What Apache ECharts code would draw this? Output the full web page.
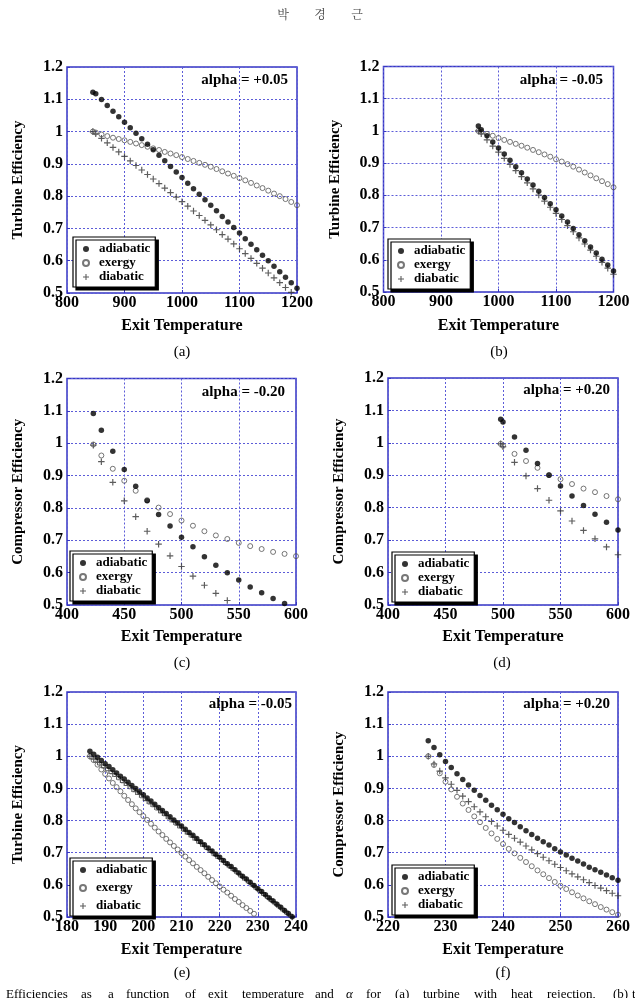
<!DOCTYPE html>
<html><head><meta charset="utf-8">
<script src="https://cdn.jsdelivr.net/npm/echarts@6/dist/echarts.min.js"></script>
<style>html,body{margin:0;padding:0;background:#fff;overflow:hidden}#c{width:635px;height:998px}</style>
</head><body><div id="c"></div>
<script>
// ---------- data ----------
const seriesNames = ['adiabatic', 'exergy', 'diabatic'];
const yTicks = [0.5, 1.2, 0.1];

// (a) turbine, alpha = +0.05
const aTempAd = [845,850,860,870,880,890,900,910,920,930,940,950,960,970,980,990,1000,1010,1020,1030,1040,1050,1060,1070,1080,1090,1100,1110,1120,1130,1140,1150,1160,1170,1180,1190,1200];
const aAdiabatic = [1.122,1.117,1.099,1.081,1.063,1.046,1.029,1.012,0.995,0.978,0.961,0.944,0.927,0.910,0.892,0.875,0.858,0.840,0.823,0.806,0.789,0.772,0.755,0.737,0.720,0.703,0.686,0.668,0.651,0.634,0.617,0.600,0.583,0.566,0.549,0.532,0.515];
const aExergy = [1.000,0.997,0.991,0.986,0.981,0.977,0.973,0.968,0.963,0.958,0.953,0.948,0.943,0.937,0.932,0.927,0.921,0.915,0.909,0.903,0.897,0.891,0.884,0.877,0.870,0.863,0.856,0.849,0.841,0.833,0.825,0.817,0.808,0.800,0.791,0.782,0.772];
const aDiabatic = [1.000,0.993,0.979,0.965,0.951,0.937,0.923,0.909,0.895,0.881,0.867,0.853,0.839,0.825,0.811,0.797,0.783,0.769,0.754,0.740,0.725,0.711,0.696,0.681,0.667,0.652,0.637,0.622,0.607,0.592,0.577,0.562,0.547,0.532,0.517,0.502];

// (b) turbine, alpha = -0.05
const bTemp = [965,970,980,990,1000,1010,1020,1030,1040,1050,1060,1070,1080,1090,1100,1110,1120,1130,1140,1150,1160,1170,1180,1190,1200];
const bAdiabatic = [1.015,1.004,0.985,0.966,0.947,0.928,0.909,0.889,0.870,0.851,0.832,0.813,0.793,0.774,0.755,0.736,0.717,0.697,0.678,0.659,0.640,0.621,0.602,0.584,0.565];
const bExergy = [1.000,0.997,0.991,0.985,0.978,0.972,0.966,0.960,0.954,0.948,0.941,0.934,0.927,0.920,0.912,0.905,0.897,0.889,0.880,0.871,0.862,0.853,0.844,0.835,0.825];
const bDiabatic = [1.000,0.991,0.972,0.953,0.934,0.915,0.896,0.877,0.858,0.839,0.820,0.801,0.782,0.763,0.744,0.725,0.706,0.687,0.668,0.649,0.630,0.611,0.592,0.574,0.555];

// (c) compressor, alpha = -0.20
const cTemp = [423,430,440,450,460,470,480,490,500,510,520,530,540,550,560,570,580,590,600];
const cAdiabatic = [1.092,1.040,0.975,0.919,0.867,0.822,0.780,0.744,0.709,0.680,0.649,0.623,0.600,0.577,0.556,0.538,0.520,0.505];
const cExergy = [0.996,0.962,0.921,0.884,0.853,0.824,0.801,0.781,0.761,0.745,0.728,0.715,0.704,0.692,0.682,0.673,0.664,0.658,0.651];
const cDiabatic = [0.994,0.943,0.879,0.822,0.773,0.728,0.688,0.652,0.619,0.589,0.561,0.536,0.514];

// (d) compressor, alpha = +0.20
const dTemp = [498,500,510,520,530,540,550,560,570,580,590,600];
const dAdiabatic = [1.073,1.064,1.018,0.977,0.936,0.900,0.867,0.836,0.807,0.780,0.755,0.731];
const dExergy = [0.997,0.991,0.966,0.944,0.923,0.901,0.888,0.873,0.859,0.848,0.836,0.826];
const dDiabatic = [0.997,0.988,0.940,0.898,0.859,0.823,0.790,0.759,0.730,0.704,0.679,0.655];

// (e) turbine, alpha = -0.05
const eTemp = [186,187,188,189,190,191,192,193,194,195,196,197,198,199,200,201,202,203,204,205,206,207,208,209,210,211,212,213,214,215,216,217,218,219,220,221,222,223,224,225,226,227,228,229,230,231,232,233,234,235,236,237,238,239];
const eAdiabatic = [1.016,1.006,0.997,0.987,0.977,0.968,0.958,0.948,0.938,0.929,0.919,0.909,0.900,0.890,0.880,0.870,0.861,0.851,0.841,0.831,0.822,0.812,0.802,0.793,0.783,0.773,0.763,0.754,0.744,0.734,0.725,0.715,0.705,0.695,0.686,0.676,0.666,0.657,0.647,0.637,0.627,0.618,0.608,0.598,0.588,0.579,0.569,0.559,0.550,0.540,0.530,0.520,0.511,0.501];
const eExergy = [1.000,0.988,0.974,0.959,0.945,0.931,0.917,0.904,0.891,0.877,0.864,0.851,0.838,0.826,0.814,0.802,0.790,0.778,0.766,0.755,0.743,0.732,0.721,0.710,0.699,0.688,0.677,0.667,0.656,0.646,0.636,0.625,0.615,0.605,0.595,0.585,0.576,0.566,0.556,0.547,0.537,0.528,0.519,0.510];
const eDiabatic = [1.000,0.991,0.982,0.973,0.964,0.955,0.946,0.937,0.927,0.918,0.909,0.899,0.890,0.881,0.871,0.862,0.852,0.843,0.833,0.824,0.815,0.805,0.796,0.786,0.777,0.767,0.758,0.748,0.739,0.729,0.720,0.710,0.701,0.691,0.682,0.672,0.663,0.653,0.644,0.634,0.624,0.615,0.605,0.596,0.586,0.576,0.567,0.557,0.548,0.538,0.528,0.519,0.509,0.500];

// (f) compressor, alpha = +0.20
const fTemp = [227,228,229,230,231,232,233,234,235,236,237,238,239,240,241,242,243,244,245,246,247,248,249,250,251,252,253,254,255,256,257,258,259,260];
const fAdiabatic = [1.048,1.027,1.005,0.984,0.965,0.946,0.928,0.911,0.894,0.878,0.863,0.848,0.834,0.820,0.806,0.794,0.781,0.768,0.757,0.745,0.734,0.724,0.712,0.702,0.693,0.683,0.674,0.665,0.655,0.647,0.639,0.631,0.622,0.614];
const fExergy = [1.000,0.973,0.947,0.921,0.897,0.874,0.853,0.833,0.813,0.795,0.777,0.760,0.743,0.727,0.712,0.698,0.684,0.671,0.658,0.645,0.633,0.621,0.609,0.597,0.587,0.577,0.567,0.558,0.549,0.540,0.531,0.523,0.515,0.507];
const fDiabatic = [1.000,0.976,0.954,0.933,0.913,0.894,0.876,0.859,0.843,0.827,0.812,0.797,0.783,0.770,0.757,0.745,0.733,0.721,0.709,0.697,0.686,0.675,0.664,0.654,0.644,0.634,0.625,0.616,0.607,0.598,0.590,0.582,0.574,0.566];

// x-axis ranges [min, max, interval]
const aXTicks = [800, 1200, 100];
const bXTicks = [800, 1200, 100];
const cXTicks = [400, 600, 50];
const dXTicks = [400, 600, 50];
const eXTicks = [180, 240, 10];
const fXTicks = [220, 260, 10];

const captions = ['(a)', '(b)', '(c)', '(d)', '(e)', '(f)'];
const alphaLabels = ['alpha = +0.05', 'alpha = -0.05', 'alpha = -0.20', 'alpha = +0.20', 'alpha = -0.05', 'alpha = +0.20'];
const yTitles = ['Turbine Efficiency', 'Turbine Efficiency', 'Compressor Efficiency', 'Compressor Efficiency', 'Turbine Efficiency', 'Compressor Efficiency'];
const xTitle = 'Exit Temperature';
const headerChars = ['박', '경', '근'];
const footerWords = ['Efficiencies','as','a','function','of','exit','temperature','and','α','for','(a)','turbine','with','heat','rejection,','(b)','t'];

// ---------- layout / style ----------
const SERIF = '"Liberation Serif","Times New Roman",Times,serif';
const FRAME = '#3636c2';
const GRIDC = '#5c5cd8';
const PLUS = 'path://M0,4.1H10V5.9H0ZM4.1,0H5.9V10H4.1Z';

const panels = [
  {grid:{left:67,top:67,width:230,height:226}, x:aXTicks, d:[[aTempAd,aAdiabatic],[aTempAd,aExergy],[aTempAd,aDiabatic]], alphaXY:[288,80], leg:[73,237,0], capXY:[182,352], xtY:326},
  {grid:{left:383.5,top:66.5,width:230,height:225.5}, x:bXTicks, d:[[bTemp,bAdiabatic],[bTemp,bExergy],[bTemp,bDiabatic]], alphaXY:[603,80], leg:[388,239,0], capXY:[499,352], xtY:326},
  {grid:{left:67,top:378.5,width:229,height:226.5}, x:cXTicks, d:[[cTemp,cAdiabatic],[cTemp,cExergy],[cTemp,cDiabatic]], alphaXY:[285,392], leg:[70,551,0], capXY:[182,663], xtY:637},
  {grid:{left:388,top:378,width:230,height:227}, x:dXTicks, d:[[dTemp,dAdiabatic],[dTemp,dExergy],[dTemp,dDiabatic]], alphaXY:[610,390], leg:[392,552,0], capXY:[502,663], xtY:637},
  {grid:{left:67,top:692,width:229,height:225}, x:eXTicks, d:[[eTemp,eAdiabatic],[eTemp,eExergy],[eTemp,eDiabatic]], alphaXY:[292,704], leg:[70,858,4], capXY:[182,973], xtY:950},
  {grid:{left:388,top:692,width:230,height:225}, x:fXTicks, d:[[fTemp,fAdiabatic],[fTemp,fExergy],[fTemp,fDiabatic]], alphaXY:[610,704], leg:[392,865,0], capXY:[503,973], xtY:950}
];

const symStyles = {
  adiabatic: {symbol:'circle', symbolSize:5.5, itemStyle:{color:'#000'}, z:4},
  exergy: {symbol:'circle', symbolSize:5, itemStyle:{color:'rgba(255,255,255,0)', borderColor:'#555', borderWidth:1}, z:3},
  diabatic: {symbol:PLUS, symbolSize:6.5, itemStyle:{color:'#333'}, z:2}
};

const plainNum = v => String(Math.round(v * 1000) / 1000);

const grids = [], xAxes = [], yAxes = [], series = [], legends = [], graphics = [];
panels.forEach((p, i) => {
  grids.push(Object.assign({show:true, borderColor:FRAME, borderWidth:1.5, backgroundColor:'#fff', outerBoundsMode:'none', containLabel:false}, p.grid));
  xAxes.push({
    type:'value', gridIndex:i, min:p.x[0], max:p.x[1], interval:p.x[2],
    axisLine:{show:false}, axisTick:{show:true, inside:true, length:3, lineStyle:{color:FRAME}},
    splitLine:{show:true, lineStyle:{color:GRIDC, type:[2,2], width:1}},
    axisLabel:{color:'#000', fontFamily:SERIF, fontWeight:'bold', fontSize:16, margin:2, showMinLabel:true, showMaxLabel:true, formatter:plainNum}
  });
  yAxes.push({
    type:'value', gridIndex:i, min:yTicks[0], max:yTicks[1], interval:yTicks[2],
    name:yTitles[i], nameLocation:'middle', nameGap:41, nameRotate:90,
    nameTextStyle:{color:'#000', fontFamily:SERIF, fontWeight:'bold', fontSize:15},
    axisLine:{show:false}, axisTick:{show:true, inside:true, length:3, lineStyle:{color:FRAME}},
    splitLine:{show:true, lineStyle:{color:GRIDC, type:[2,2], width:1}},
    axisLabel:{color:'#000', fontFamily:SERIF, fontWeight:'bold', fontSize:16, margin:4, showMinLabel:true, showMaxLabel:true, formatter:plainNum}
  });
  // draw order: diabatic, exergy, adiabatic (adiabatic on top)
  [2, 1, 0].forEach(k => {
    const name = seriesNames[k];
    const temps = p.d[k][0], vals = p.d[k][1];
    series.push(Object.assign({
      type:'scatter', name:name, xAxisIndex:i, yAxisIndex:i, silent:true, animation:false,
      data: vals.map((v, j) => [temps[j], v])
    }, symStyles[name]));
  });
  legends.push({
    data:seriesNames.slice(), orient:'vertical', left:p.leg[0], top:p.leg[1], itemGap:p.leg[2],
    itemWidth:16, itemHeight:6, padding:[5,5,3,9], selectedMode:false,
    backgroundColor:'#fff', borderColor:'#000', borderWidth:1.2,
    shadowColor:'#000', shadowBlur:0, shadowOffsetX:3, shadowOffsetY:3,
    textStyle:{color:'#000', fontFamily:SERIF, fontWeight:'bold', fontSize:13, padding:[0,0,0,0], lineHeight:14}
  });
  graphics.push({type:'text', x:p.alphaXY[0], y:p.alphaXY[1], z:10, style:{text:alphaLabels[i], font:'bold 15px ' + SERIF, fill:'#000', align:'right', verticalAlign:'middle'}});
  graphics.push({type:'text', x:p.grid.left + p.grid.width/2, y:p.xtY, style:{text:xTitle, font:'bold 16px ' + SERIF, fill:'#000', align:'center', verticalAlign:'middle'}});
  graphics.push({type:'text', x:p.capXY[0], y:p.capXY[1], style:{text:captions[i], font:'15px ' + SERIF, fill:'#000', align:'center', verticalAlign:'middle'}});
});

// running header
const headerX = [283, 320, 357];
headerChars.forEach((ch, k) => graphics.push({type:'text', x:headerX[k], y:14, style:{text:ch, font:'12px "Noto Serif CJK KR","Noto Sans CJK KR",sans-serif', fill:'#444', align:'center', verticalAlign:'middle'}}));

// caption line (cut off at bottom of page)
const footerX = [6,81,108,126,185,208,242,315,346,366,395,423,474,511,547,613,632];
footerWords.forEach((w, k) => graphics.push({type:'text', x:footerX[k], y:988, style:{text:w, font:(w === 'α' ? 'italic ' : '') + '13px ' + SERIF, fill:'#000', align:'left', verticalAlign:'top'}}));

const chart = echarts.init(document.getElementById('c'), null, {renderer:'canvas', width:635, height:998});
chart.setOption({
  animation:false, backgroundColor:'#fff',
  grid:grids, xAxis:xAxes, yAxis:yAxes, series:series, legend:legends, graphic:graphics
});
</script></body></html>
